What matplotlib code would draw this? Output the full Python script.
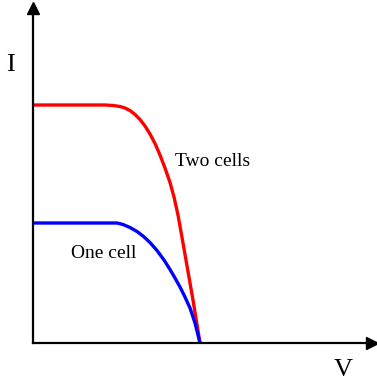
import matplotlib
matplotlib.use("Agg")
import matplotlib.pyplot as plt

# I-V curves (arbitrary units)
v_two = [0, 57, 72, 80, 87, 92, 97, 102, 107, 112, 117, 122, 127, 132, 137, 141, 145, 150, 155, 160, 167]
i_two = [238, 238, 238, 237.5, 236.5, 235, 232.5, 228.5, 223.5, 217, 209, 199.5, 188, 175, 160.5, 146, 128, 100, 71.5, 43, 0]
v_one = [0, 57, 84, 90, 97, 104, 110, 117, 124, 131, 137, 142, 147, 152, 157, 162, 167]
i_one = [120, 120, 120, 118.5, 115.5, 111.5, 107, 100.5, 92.5, 83, 73.5, 65, 56, 46, 35, 20, 0]

W, H = 377, 383
fig = plt.figure(figsize=(W / 100, H / 100), dpi=100)
ox, oy = 33, 343
ax = fig.add_axes([ox / W, (H - oy) / H, (W - ox) / W, (oy - 8) / H])
ax.set_xlim(0, W - ox)
ax.set_ylim(0, oy - 8)
for s in ["top", "right"]:
    ax.spines[s].set_visible(False)
for s in ["left", "bottom"]:
    ax.spines[s].set_linewidth(1.6)
ax.set_xticks([])
ax.set_yticks([])
ax.plot(0.985, 0, ">k", markersize=9, transform=ax.get_yaxis_transform(), clip_on=False)
ax.plot(0, 1, "^k", markersize=9, transform=ax.get_xaxis_transform(), clip_on=False)

ax.plot(v_two, i_two, color="#ff0000", lw=2.4, solid_capstyle="butt",
        solid_joinstyle="round", clip_on=False)
ax.plot(v_one, i_one, color="#0000ff", lw=2.4, solid_capstyle="butt",
        solid_joinstyle="round", clip_on=False)

font = "Liberation Serif"
ax.text(180, 181, "Two cells", fontsize=14, family=font, ha="center", va="center")
ax.text(71, 90, "One cell", fontsize=14, family=font, ha="center", va="center")
fig.text(10 / W, 1 - 65 / H, "I", fontsize=19, family=font, ha="center", va="center")
fig.text(343 / W, 1 - 370 / H, "V", fontsize=19, family=font, ha="center", va="center")

fig.savefig("out.png", dpi=100)
